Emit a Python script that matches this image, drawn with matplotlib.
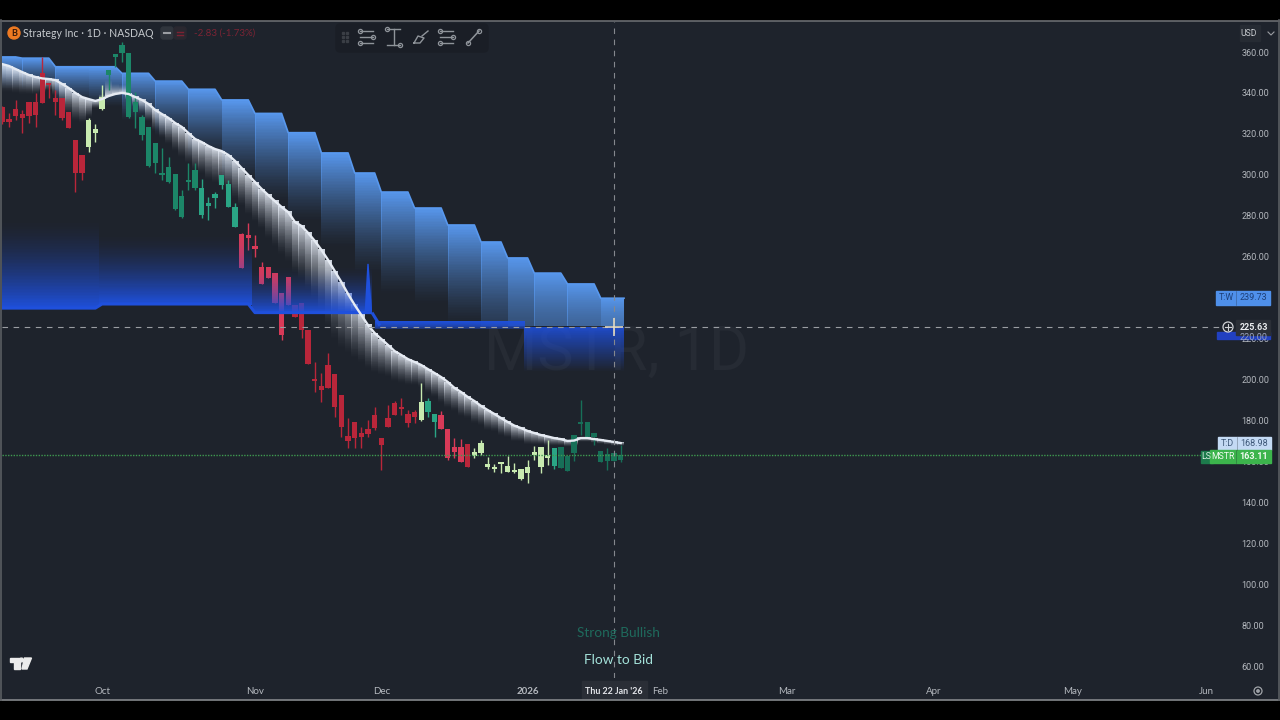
import numpy as np
import matplotlib
matplotlib.use("Agg")
import matplotlib.pyplot as plt
from matplotlib.colors import to_rgb
from matplotlib.patches import Circle, FancyBboxPatch, Polygon, Rectangle

# ─────────────────────────────────────────────
# DATA (x = trading days from 1 Oct 2025)
# ─────────────────────────────────────────────

first_bar = -15

opens = [333.0, 327.1, 332.0, 329.7, 335.4, 335.7, 349.6, 344.7, 337.4, 337.4, 330.9, 317.0, 309.7,
         313.4, 320.3, 332.0, 348.8, 357.7, 359.3, 328.4, 330.9, 319.4, 304.3, 305.6, 299.9, 296.3,
         283.3, 279.6, 296.3, 293.4, 280.4, 284.8, 288.5, 295.0, 284.4, 274.7,
         271.1, 270.1, 264.4, 255.2, 255.2, 251.9, 242.1, 250.3, 236.4, 237.2, 224.2, 200.2, 196.8,
         207.1, 202.7, 192.4, 172.4, 179.4, 173.7, 175.8, 182.7, 171.6, 181.0, 188.4, 186.3, 183.2, 184.0,
         180.2, 184.3, 179.1, 182.7, 175.8, 167.2, 167.2, 168.5,
         162.8, 163.9, 157.4, 156.3, 158.7, 155.0, 154.7, 151.4, 154.5, 163.1, 157.4, 161.5,
         157.9, 156.6, 155.5, 163.9, 178.2, 172.1, 172.1, 159.9, 160.4, 160.4, 160.7]
highs = [333.5, 330.0, 336.6, 331.7, 335.4, 339.8, 357.7, 344.7, 341.4, 337.4, 330.9, 317.0, 309.7,
         327.9, 324.7, 343.9, 351.2, 358.5, 365.0, 359.3, 340.6, 329.2, 323.5, 315.7, 312.9, 308.9,
         300.2, 292.6, 305.6, 305.6, 297.8, 289.0, 291.8, 299.9, 297.5, 286.4,
         271.4, 276.3, 270.6, 257.6, 255.2, 251.9, 242.1, 250.3, 236.4, 237.2, 224.2, 208.7, 203.0,
         213.1, 202.7, 192.4, 181.0, 179.4, 177.0, 180.2, 186.7, 171.6, 187.6, 189.7, 190.8, 185.1, 185.1,
         198.5, 190.8, 183.2, 184.8, 175.8, 171.3, 170.8, 168.5,
         166.4, 170.5, 162.3, 158.7, 159.5, 162.8, 159.1, 156.1, 160.7, 167.7, 166.9, 170.5,
         166.7, 166.9, 162.8, 172.9, 190.0, 179.1, 173.7, 165.2, 166.4, 163.9, 168.0]
lows = [325.0, 323.2, 326.8, 320.3, 325.2, 323.5, 335.3, 337.4, 329.2, 327.0, 323.0, 291.8, 297.5,
        311.3, 316.2, 331.7, 341.4, 352.8, 355.3, 327.6, 322.7, 317.0, 304.0, 300.7, 297.5, 295.8,
        283.0, 278.7, 292.6, 292.6, 279.0, 278.0, 283.6, 293.1, 284.1, 274.5,
        254.3, 263.3, 260.0, 246.7, 249.4, 237.2, 219.3, 236.4, 230.7, 220.1, 207.6, 194.1, 189.2,
        196.0, 181.9, 172.1, 166.4, 166.4, 166.4, 172.1, 175.3, 155.8, 177.0, 182.7, 182.7, 176.6, 178.6,
        179.9, 181.9, 171.8, 175.8, 160.7, 161.5, 159.9, 157.4,
        161.5, 163.1, 156.3, 154.7, 154.2, 154.7, 154.2, 150.9, 149.6, 160.7, 154.2, 158.2,
        156.3, 156.6, 155.5, 160.4, 172.9, 172.1, 168.0, 159.9, 155.8, 160.4, 159.9]
closes = [326.0, 326.0, 328.7, 327.6, 328.7, 329.2, 335.3, 343.9, 335.4, 327.6, 323.0, 300.7, 300.7,
          326.8, 322.2, 338.2, 351.2, 358.5, 363.4, 359.3, 335.7, 328.4, 323.5, 315.7, 300.7, 304.0,
          300.2, 289.8, 297.5, 302.4, 293.4, 285.5, 290.6, 299.9, 295.4, 284.4,
          254.3, 269.3, 263.8, 246.7, 249.4, 237.2, 221.8, 236.4, 230.7, 224.2, 207.6, 199.3, 194.9,
          196.0, 186.4, 176.6, 170.1, 171.3, 171.8, 173.2, 176.2, 168.0, 177.0, 182.7, 185.6, 178.6, 181.5,
          188.9, 189.5, 183.2, 175.8, 161.5, 164.4, 159.9, 157.4,
          164.8, 168.8, 157.4, 156.3, 159.5, 157.9, 155.3, 156.1, 157.1, 164.4, 166.9, 163.1,
          166.7, 166.9, 162.8, 172.9, 179.4, 179.1, 173.7, 165.2, 163.6, 163.9, 163.11]
candle_kinds = list("R" * 13 + "LLL" + "T" * 14 + "B" * 6 + "P" * 8 + "R" * 19 + "L" + "BB"
                    + "PPPPR" + "L" * 12 + "B" + "D" * 10)

trend_line = [354.1, 353.2, 351.7, 350.2, 348.8, 347.8, 347.1, 346.8, 346.3, 344.4, 342.4, 340.0, 338.0,
              337.0, 336.1, 337.0, 338.5, 339.5, 340.0, 339.5, 338.0, 336.6, 334.6, 331.7, 329.7, 327.8,
              325.3, 323.4, 320.4, 317.5, 316.0, 314.1, 312.6, 311.6, 309.7, 306.8, 303.3, 299.9, 296.5,
              293.1, 290.1, 287.2, 284.3, 281.8, 277.0, 275.0, 271.6, 267.7, 263.3, 258.4, 253.0, 247.6,
              241.8, 236.4, 231.5, 226.6, 222.7, 219.8, 216.9, 213.9, 212.0, 210.0, 208.6, 207.1, 205.1,
              203.2, 201.2, 198.8, 195.9, 193.9, 191.5, 189.5, 187.1, 185.1, 183.2, 181.2, 179.3, 177.5,
              176.3, 174.9, 173.9, 172.9, 172.2, 171.4, 170.9, 170.0, 170.2, 171.4, 171.4, 170.9, 170.5,
              170.0, 169.5, 168.98]
# how far the grey ribbon reaches below the line, in dollars
ribbon_gap = [14, 13, 12, 11, 10, 9, 7, 6, 8, 11, 13, 14, 13, 9, 4, -2, -8, -5, -4, 3, 5, 7, 9, 11, 12, 13,
              14, 15, 15, 16, 16, 17, 17, 18, 18, 19, 19, 20, 20, 20, 22, 23, 24, 25, 26, 27, 29, 30, 32,
              33, 34, 33, 30, 27, 24, 22, 20, 18, 16, 15, 14, 13, 12, 11, 12, 12, 13, 13, 12, 12, 11, 11,
              10, 10, 9, 9, 8, 8, 7, 7, 6, 5, 4.5, 4, 3.5, 3, 2.5, 2, 2, 2, 2, 2, 2, 1.5]

# weekly cloud: column edges, top of each column, how far it fades
week_edges = [-15.5, -12.5, -7.5, -2.5, 2.5, 7.5, 12.5, 17.5, 22.5, 27.5, 32.5, 37.5, 41.5, 46.5, 51.5,
              56.5, 60.5, 64.5, 69.5, 74.5, 78.5]
week_tops = [357.6, 357.0, 352.8, 352.8, 349.6, 345.8, 341.8, 336.6, 330.0, 320.6, 310.7, 300.9, 291.6,
             283.8, 275.5, 267.2, 259.4, 252.0, 246.7, 239.73]
week_fade = [16, 16, 18, 20, 24, 28, 34, 40, 44, 44, 47, 50, 51, 48, 50, 58, 66, 66, 60, 55]

# flow zone: bright level and where the gradient dies out
flow_x = [-15.5, -1, 0, 22, 23, 40.6, 41.8, 63.3, 64, 78.5]
flow_level = [234.9, 234.9, 236.9, 236.9, 232.7, 232.7, 226.4, 226.4, 225.2, 225.2]
flow_edges = [-15.5, -0.5, 22.5, 41, 63.5, 78.5]
flow_base = [234.4, 236.4, 232.2, 228.2, 225.2]
flow_far = [279.0, 272.0, 256.0, 224.5, 203.7]
flow_power = [1.6, 1.6, 1.6, 0.3, 1.0]
spike_x = [39.6, 40, 40.5]
spike_y = [233.0, 256.5, 233.0]

month_pos = [0, 23, 42, 64, 84, 103, 125, 146, 166]
month_labels = ["Oct", "Nov", "Dec", "2026", "Feb", "Mar", "Apr", "May", "Jun"]
price_ticks = list(range(60, 361, 20))

last_price = 163.11
cross_price = 225.63
cross_bar = 77

# ─────────────────────────────────────────────
# STYLE
# ─────────────────────────────────────────────

BG = "#1e232c"
AXIS_TXT = "#b4b8be"
KIND_COLORS = {"R": "#b9263a", "P": "#d83a58", "L": "#c8eab0", "T": "#1c8668", "B": "#2aa585", "D": "#176f58"}
CLOUD = "#5898ee"
FLOW = "#1f50dc"
RIBBON = "#e2e8f2"

plt.rcParams["font.family"] = ["Lato", "DejaVu Sans"]


def fade_column(ax, x0, x1, y_full, y_zero, color, a_full, a_zero=0.0, power=1.0, z=1):
    """Vertical gradient between two prices, solid end at y_full."""
    t = np.linspace(0, 1, 64)
    img = np.zeros((64, 1, 4))
    img[:, :, :3] = to_rgb(color)
    img[:, 0, 3] = a_zero + (a_full - a_zero) * (1 - t) ** power
    return ax.imshow(img, extent=(x0, x1, y_zero, y_full), origin="upper", aspect="auto",
                     interpolation="nearest", zorder=z)


fig = plt.figure(figsize=(12.8, 7.2), dpi=100, facecolor=BG)
ax = fig.add_axes([2 / 1280, (720 - 678) / 720, 1236 / 1280, 656 / 720], facecolor=BG)

# ── watermark ──
ax.text(77.4, 213, "MSTR, 1D", color="#262b34", fontsize=44, ha="center", va="center",
        family="Roboto", zorder=0.5)

# ── weekly cloud, top edge slants one bar between weeks ──
cloud_x, cloud_y = [week_edges[0]], [week_tops[0]]
for i, top in enumerate(week_tops):
    cloud_x += [week_edges[i] + 0.5, week_edges[i + 1] - 0.5]
    cloud_y += [top, top]
cloud_x.append(week_edges[-1])
cloud_y.append(week_tops[-1])
cloud_clip = Polygon(list(zip(cloud_x, cloud_y)) + [(78.5, 200), (-15.5, 200)], closed=True,
                     transform=ax.transData)
for i, top in enumerate(week_tops):
    bottom = top - week_fade[i]
    a_end = 0.0
    if bottom < 226:
        a_end = (1 - (top - 226) / week_fade[i]) ** 1.3
        bottom = 226
    x0 = week_edges[i] + 0.5 if i > 0 else week_edges[0]
    x1 = week_edges[i + 1] + 0.5 if i < 19 else week_edges[-1]
    im = fade_column(ax, x0, x1, top, bottom, CLOUD, 1.0, a_end, power=1.3, z=1)
    im.set_clip_path(cloud_clip)
ax.plot(cloud_x, cloud_y, color=CLOUD, lw=1.2, zorder=1.2)

# ── grey ribbon under the trend line ──
bars = np.arange(first_bar, first_bar + len(trend_line))
for b, val, gap in zip(bars, trend_line, ribbon_gap):
    fade_column(ax, b - 0.5, b + 0.5, val, val - gap, RIBBON, 0.9, power=1.5, z=2)

# ── candles ──
colors = [KIND_COLORS[k] for k in candle_kinds]
ax.vlines(bars, lows, highs, colors=colors, lw=1.0, zorder=3)
body_low = np.minimum(opens, closes)
body_h = np.maximum(np.abs(np.array(opens) - np.array(closes)), 1.2)
ax.bar(bars, body_h, bottom=body_low, width=0.8, color=colors, zorder=3.1)

# ── flow zone ──
flow_clip = Polygon(list(zip(flow_x[:6], flow_level[:6])) + [(40.6, 300), (-15.5, 300)], closed=True,
                    transform=ax.transData)
for i, base in enumerate(flow_base):
    alpha = 0.88 if i == 4 else 1.0
    im = fade_column(ax, flow_edges[i], flow_edges[i + 1], base, flow_far[i], FLOW, alpha,
                     power=flow_power[i], z=4)
    if i < 3:
        im.set_clip_path(flow_clip)
ax.fill(spike_x, spike_y, color=FLOW, zorder=4.1)
ax.plot(flow_x[:6], flow_level[:6], color=FLOW, lw=2.2, zorder=4.2, solid_capstyle="butt")
ax.plot(flow_x[5:7], flow_level[5:7], color=FLOW, lw=2.2, zorder=4.2, solid_capstyle="butt")

# ── trend line ──
ax.plot(bars, trend_line, color="#e6ebf3", lw=1.7, zorder=5)

# ── crosshair and price line ──
ax.axhline(last_price, color="#3f9a50", lw=1.0, ls=(0, (1, 1)), zorder=6)
ax.plot([-15.04, 168.4], [cross_price, cross_price], color="#9a9da2", lw=0.8, ls=(0, (5, 5)), zorder=6)
ax.axvline(cross_bar, color="#85888e", lw=0.8, ls=(0, (5, 5)), zorder=6)
ax.plot(cross_bar, cross_price, marker="+", ms=13, mew=1.2, color="#e0d8c4", zorder=7)

# ── axes ──
ax.set_xlim(-15.04, 170.83)
ax.set_ylim(54.2, 374.66)
ax.set_xticks(month_pos)
ax.set_xticklabels(month_labels, fontsize=7, color=AXIS_TXT)
ax.get_xticklabels()[3].set_fontweight("bold")
ax.yaxis.tick_right()
ax.set_yticks(price_ticks)
ax.set_yticklabels([f"{p:.2f}" for p in price_ticks], fontsize=6.5, color=AXIS_TXT, family="Roboto")
ax.tick_params(length=0, axis="x", pad=6.5)
ax.tick_params(length=0, axis="y", pad=2.4)
for s in ax.spines.values():
    s.set_visible(False)

# ─────────────────────────────────────────────
# CHROME (overlay in screen pixels)
# ─────────────────────────────────────────────

ov = fig.add_axes([0, 0, 1, 1], facecolor="none", zorder=10)
ov.set_xlim(0, 1280)
ov.set_ylim(720, 0)
ov.axis("off")

# video black bars and frame
ov.add_patch(Rectangle((0, 0), 1280, 20, color="#000000"))
ov.add_patch(Rectangle((0, 700), 1280, 20, color="#000000"))
ov.plot([0, 1280], [20.5, 20.5], color="#6a6d72", lw=1.2)
ov.plot([0, 1280], [699.5, 699.5], color="#85888c", lw=1.2)
ov.plot([1, 1], [20, 700], color="#5a5d62", lw=1.2)
ov.plot([1278.5, 1278.5], [20, 700], color="#5a5d62", lw=1.2)

# header
ov.add_patch(Circle((14, 33), 6, color="#ee7a22"))
ov.text(14, 33.3, "B", color="#3a1a08", fontsize=6.5, ha="center", va="center", fontweight="bold")
ov.text(23, 33.5, "Strategy Inc · 1D · NASDAQ", color="#c6cace", fontsize=7.6, va="center")
ov.add_patch(FancyBboxPatch((161, 27), 12, 12, boxstyle="round,pad=0,rounding_size=2.5", color="#30353d"))
ov.add_patch(FancyBboxPatch((174, 27), 12, 12, boxstyle="round,pad=0,rounding_size=2.5", color="#2a2830"))
ov.plot([164, 170], [33, 33], color="#9a9da2", lw=1.5)
ov.plot([177, 183], [31.5, 31.5], color="#7c2232", lw=1)
ov.plot([177, 183], [34.5, 34.5], color="#7c2232", lw=1)
ov.text(194, 33, "-2.83 (-1.73%)", color="#7c2434", fontsize=7, va="center")

# drawing toolbar
ICON = "#8f949a"
ov.add_patch(FancyBboxPatch((336, 24), 152, 28, boxstyle="round,pad=0,rounding_size=4", color="#1a1e26"))
for dx in (343, 347):
    for dy in (33, 37, 41):
        ov.plot(dx, dy, marker="s", ms=1.4, color="#3a3e45")
for x0 in (359, 439):
    ov.plot([x0 + 1, x0 + 14], [31, 31], color=ICON, lw=1)
    ov.plot([x0 + 1, x0 + 14], [37, 37], color=ICON, lw=1)
    ov.plot([x0 + 1, x0 + 14], [43, 43], color=ICON, lw=1)
    ov.plot([x0 + 1, x0 + 14, x0 + 1], [31, 37, 43], ls="none", marker="o", ms=3, mfc="none", mec=ICON, mew=0.9)
ov.plot([387, 400], [29, 29], color=ICON, lw=1)
ov.plot([393.5, 393.5], [29, 45], color=ICON, lw=1)
ov.plot([387, 400], [45, 45], color=ICON, lw=1)
ov.plot([387, 400], [29, 45], ls="none", marker="o", ms=3, mfc="none", mec=ICON, mew=0.9)
ov.plot([414, 418, 424, 420, 414], [43, 36, 38, 43, 43], color=ICON, lw=1)
ov.plot([422, 428], [36, 31], color=ICON, lw=1)
ov.plot([468, 479], [43, 31], color=ICON, lw=1.1)
ov.plot([468, 479], [43, 31], ls="none", marker="o", ms=3, mfc="none", mec=ICON, mew=0.9)

# currency box
ov.add_patch(Rectangle((1240, 25), 20, 16, color="#262b33"))
ov.text(1249, 33, "USD", color="#c9ccd0", fontsize=6.2, ha="center", va="center", family="Roboto")
ov.plot([1268, 1271, 1274], [32, 35, 32], color="#9a9da2", lw=0.8)


def price_tag(x0, x1, y0, y1, txt, bg, fg, split=None, left_txt=None, left_x=None, weight="normal"):
    ov.add_patch(Rectangle((x0, y0), x1 - x0, y1 - y0, color=bg))
    ov.text((split if split else x0) + 17.5, (y0 + y1) / 2, txt, color=fg, fontsize=6.5,
            ha="center", va="center", family="Roboto", fontweight=weight)
    if left_txt:
        ov.text(left_x, (y0 + y1) / 2, left_txt, color=fg, fontsize=6.3, ha="center", va="center",
                family="Roboto")
        ov.plot([split, split], [y0, y1], color=BG, lw=0.4, alpha=0.5)


# right axis tags
ov.add_patch(Rectangle((1217, 332), 53, 7, color="#2140c0"))
ov.text(1254, 338, "220.00", color="#9aa3c0", fontsize=6.5, ha="center", va="center", family="Roboto")
price_tag(1216, 1270, 291, 305, "239.73", "#4f90ea", "#1d3f78", split=1236, left_txt="T:W", left_x=1226)
price_tag(1236, 1270, 320, 335, "225.63", "#2b2f37", "#eceef0", split=1236, weight="bold")
ov.add_patch(Circle((1228, 327), 5, fc="#20242c", ec="#d0d2d6", lw=0.9))
ov.plot([1225, 1231], [327, 327], color="#d0d2d6", lw=0.8)
ov.plot([1228, 1228], [324, 330], color="#d0d2d6", lw=0.8)
price_tag(1218, 1271, 437, 450, "168.98", "#c4daf4", "#3e5878", split=1237, left_txt="T:D", left_x=1227)
ov.add_patch(Rectangle((1201, 451), 12, 12, color="#1d7a4c"))
ov.text(1206.5, 456.8, "LS", color="#d8eee0", fontsize=6.3, ha="center", va="center", family="Roboto")
price_tag(1210, 1271, 450, 463, "163.11", "#3cb44c", "#f2fbf2", split=1236, left_txt="MSTR", left_x=1223,
          weight="bold")

# bottom labels
ov.add_patch(Rectangle((582, 681), 65, 17, color="#2a2e36"))
ov.text(614, 691, "Thu 22 Jan '26", color="#e2e4e8", fontsize=6.4, ha="center", va="center",
        fontweight="bold")
ov.text(618, 633, "Strong Bullish", color="#1f6a5c", fontsize=9.8, ha="center", va="center")
ov.text(618, 659.5, "Flow to Bid", color="#a4e2da", fontsize=9.8, ha="center", va="center")

# logo and reset button
LOGO = "#ececec"
ov.fill([9.5, 19.5, 19.5, 18.8, 14, 14, 9.5], [658, 658, 669, 669, 669, 662, 662], color=LOGO)
ov.add_patch(Circle((21.5, 660), 1.9, color=LOGO))
ov.fill([24.5, 31.5, 27, 22], [658, 658, 669, 669], color=LOGO)
ov.add_patch(Circle((1258, 691), 4, fc="none", ec="#a0a3a8", lw=0.9))
ov.add_patch(Circle((1258, 691), 1.2, color="#a0a3a8"))

fig.savefig("out.png", dpi=100, facecolor=BG)
